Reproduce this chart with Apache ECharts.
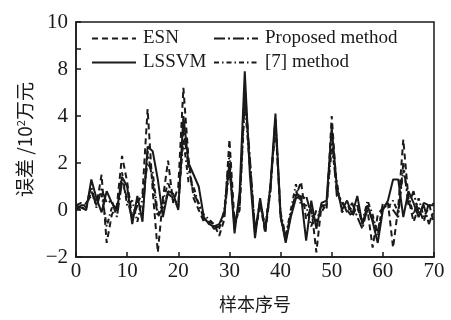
<!DOCTYPE html>
<html>
<head>
<meta charset="utf-8">
<script src="https://cdn.jsdelivr.net/npm/echarts@6/dist/echarts.min.js"></script>
<style>
  html, body { margin: 0; padding: 0; background: #fff; }
  #chart { width: 451px; height: 320px; }
</style>
</head>
<body>
<div id="chart"></div>
<script>
// sample index 0..70
const samples = [0,1,2,3,4,5,6,7,8,9,10,11,12,13,14,15,16,17,18,19,20,21,22,23,24,25,26,27,28,29,30,
  31,32,33,34,35,36,37,38,39,40,41,42,43,44,45,46,47,48,49,50,51,52,53,54,55,56,57,58,59,60,
  61,62,63,64,65,66,67,68,69,70];

// errors as drawn on the (broken) y scale
const esn = [0.2,0.3,0.1,0.8,0.2,1.5,-1.4,-0.2,0.2,2.3,1.2,-0.3,0.3,0.7,4.3,0.8,-1.8,0.5,2.1,0.3,1.0,
  5.2,2.2,0.5,0.0,-0.5,-0.5,-0.6,-1.1,-0.4,3.0,-0.5,0.0,5.2,2.0,-0.9,0.3,-1.0,0.8,3.8,-0.3,
  -1.2,-0.2,0.6,1.2,-0.4,0.1,-1.8,0.2,0.0,4.0,0.8,0.3,0.0,-0.3,0.2,-0.6,0.0,-1.6,-0.2,0.1,
  0.3,-1.6,0.1,3.0,0.5,-0.5,0.1,-0.5,0.3,-0.6];
const lssvm = [0.2,0.1,0.0,1.3,0.5,-0.1,0.8,0.3,0.0,1.4,1.0,-0.6,0.6,-0.5,2.7,2.5,1.3,-0.3,0.8,0.7,0.0,
  4.0,2.0,1.5,1.0,-0.3,-0.6,-0.7,-0.6,-0.1,2.0,-1.0,0.8,5.9,1.5,-1.2,0.5,-0.9,1.0,4.1,-0.2,
  -1.4,-0.3,0.5,0.6,-1.3,0.4,-0.8,0.3,0.4,3.5,1.0,0.0,0.4,-0.2,0.6,-0.6,0.2,-0.5,-1.4,0.0,
  0.4,1.3,1.3,-0.3,0.8,0.3,-0.3,0.3,0.2,0.2];
const proposed = [0.0,0.2,0.2,1.0,0.1,0.9,0.3,0.4,-0.3,1.2,0.5,-0.4,0.2,-0.2,2.5,1.2,-0.3,0.1,0.7,0.5,0.1,
  3.5,1.8,0.7,0.3,-0.4,-0.5,-0.8,-0.7,-0.2,1.8,-0.6,0.3,5.0,2.2,-0.9,0.4,-0.8,0.8,3.9,-0.3,
  -1.3,-0.2,0.8,0.4,0.6,-0.2,-0.5,0.2,0.2,3.2,0.6,0.4,-0.1,0.3,-0.3,-0.8,0.1,-0.4,-0.9,0.1,
  0.2,0.0,-0.3,2.0,0.2,0.8,-0.2,0.2,-0.6,0.0];
const ref7 = [0.1,0.0,0.3,0.6,0.4,0.7,-0.7,0.1,-0.1,1.6,0.2,0.4,-0.5,0.5,2.0,1.6,-0.2,0.3,1.2,0.4,0.3,
  3.0,1.2,1.0,0.2,-0.2,-0.4,-0.6,-0.8,0.0,2.4,-0.8,0.2,4.6,1.8,-1.0,0.2,-0.7,1.0,3.6,-0.1,
  -1.1,0.0,1.1,0.2,0.2,-0.7,0.0,-0.1,0.3,2.6,1.2,-0.1,0.2,0.0,0.1,-0.5,0.4,-0.2,-1.1,0.3,
  0.1,0.4,-0.1,1.7,0.6,-0.2,0.5,-0.3,0.1,0.3];

// y axis has a break: position 6 is labelled 8, position 8 is labelled 10
const yTickPos = [-2, 0, 2, 4, 6, 6.85, 8];
const yLabelPos = [-2, 0, 2, 4, 6, 8];
const yLabelText = { '-2': '\u22122', '0': '0', '2': '2', '4': '4', '6': '8', '8': '10' };

const ink = '#1a1a1a';
const serif = '"Liberation Serif", "DejaVu Serif", serif';
const cjk = '"Noto Sans CJK SC", sans-serif';

const pair = (ys) => samples.map((x, i) => [x, ys[i]]);

const mkSeries = (name, ys, type) => ({
  name,
  type: 'line',
  data: pair(ys),
  symbol: 'none',
  silent: true,
  animation: false,
  lineStyle: { color: ink, width: 2, type },
  itemStyle: { color: ink },
});

const legendBase = {
  orient: 'vertical',
  top: 24,
  itemWidth: 44, itemHeight: 12, itemGap: 5,
  itemStyle: { opacity: 0 },
  textStyle: { fontFamily: serif, fontSize: 19, color: ink, padding: [0, 0, 0, 2] },
};

const chart = echarts.init(document.getElementById('chart'));

chart.setOption({
  animation: false,
  grid: {
    left: 76, right: 17, top: 22, bottom: 63,
    show: true, borderColor: ink, borderWidth: 1.5,
  },
  legend: [
    Object.assign({}, legendBase, { data: ['ESN', 'LSSVM'], left: 86 }),
    Object.assign({}, legendBase, { data: ['Proposed method', '[7] method'], left: 208 }),
  ],
  xAxis: {
    type: 'value',
    min: 0, max: 70, interval: 10,
    name: '样本序号',
    nameLocation: 'middle',
    nameGap: 38,
    nameTextStyle: { fontFamily: cjk, fontSize: 18, color: ink },
    axisLine: { onZero: false, lineStyle: { color: ink, width: 1.5 } },
    axisTick: { inside: true, length: 5, lineStyle: { color: ink, width: 1.5 } },
    axisLabel: { fontFamily: serif, fontSize: 21, color: ink, margin: 4 },
    splitLine: { show: false },
  },
  yAxis: {
    type: 'value',
    min: -2, max: 8,
    name: '误差 /10{sup|2}万元',
    nameLocation: 'middle',
    nameGap: 40,
    nameTextStyle: {
      fontFamily: cjk, fontSize: 19, color: ink,
      rich: { sup: { fontFamily: cjk, fontSize: 11, color: ink, verticalAlign: 'top', padding: [0, 0, 8, 0] } },
    },
    axisLine: { show: true, onZero: false, lineStyle: { color: ink, width: 1.5 } },
    axisTick: { show: true, inside: true, length: 5, customValues: yTickPos, lineStyle: { color: ink, width: 1.5 } },
    axisLabel: {
      fontFamily: serif, fontSize: 21, color: ink, margin: 8,
      customValues: yLabelPos,
      formatter: (v) => yLabelText[String(Math.round(v))],
    },
    splitLine: { show: false },
  },
  series: [
    mkSeries('ESN', esn, [6, 4]),
    mkSeries('LSSVM', lssvm, 'solid'),
    mkSeries('Proposed method', proposed, [11, 3, 2, 3]),
    mkSeries('[7] method', ref7, [5, 3, 1.5, 3]),
  ],
});
</script>
</body>
</html>
